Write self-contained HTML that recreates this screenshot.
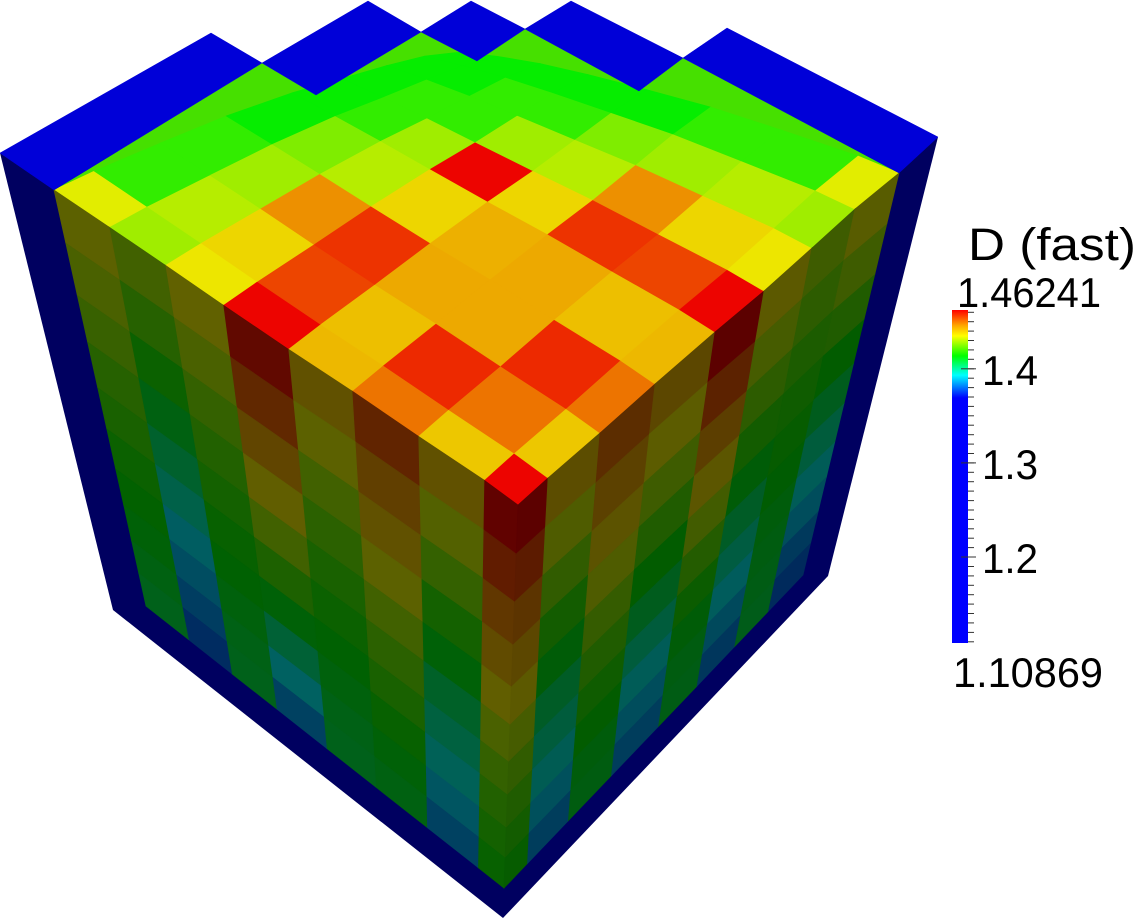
<!DOCTYPE html>
<html>
<head>
<meta charset="utf-8">
<style>
  html,body{margin:0;padding:0;background:#fff;}
  body{width:1138px;height:921px;overflow:hidden;}
  svg{display:block;}
  text{font-family:"Liberation Sans","DejaVu Sans",sans-serif;fill:#000;}
</style>
</head>
<body>
<svg id="chart" width="1138" height="921" viewBox="0 0 1138 921" xmlns="http://www.w3.org/2000/svg">
  <defs>
    <clipPath id="topClip">
      <polygon points="54,190 87,170 262,63 316,95 421,32 477,61 525,29 639,91 683,58 899,173 518,505"/>
    </clipPath>
    <linearGradient id="cbGrad" x1="0" y1="0" x2="0" y2="1">
      <stop offset="0" stop-color="#ff0000"/>
      <stop offset="0.046" stop-color="#ffa500"/>
      <stop offset="0.078" stop-color="#ffff00"/>
      <stop offset="0.138" stop-color="#00ff00"/>
      <stop offset="0.196" stop-color="#00ffff"/>
      <stop offset="0.264" stop-color="#0000ff"/>
      <stop offset="1" stop-color="#0000ff"/>
    </linearGradient>
  </defs>
  <polygon points="0,153 938,137 828,576 503,918 113,610" fill="#000060"/>
  <polygon fill="#46e000" points="54,190 87,170 262,63 316,95 421,32 477,61 525,29 639,91 683,58 899,173 518,505"/>
  <g id="topFace" clip-path="url(#topClip)"></g>
  <g id="leftFace"></g>
  <g id="rightFace"></g>
  <polygon fill="#0000d8" stroke="#0000d8" stroke-width="0.5"
    points="0,153 211,33 262,63 368,1 421,32 471,1 525,29 571,1 683,58 727,28 938,137 899,173 683,58 639,91 525,29 477,61 421,32 316,95 262,63 87,170 54,190"/>
  <g id="legend">
    <text x="968" y="260" font-size="45" textLength="168" lengthAdjust="spacingAndGlyphs">D (fast)</text>
    <text x="957" y="307" font-size="42" textLength="144" lengthAdjust="spacingAndGlyphs">1.46241</text>
    <rect x="952" y="310" width="16" height="333" fill="url(#cbGrad)"/>
    <g id="ticks"></g>
    <text x="953" y="687" font-size="42" textLength="150" lengthAdjust="spacingAndGlyphs">1.10869</text>
  </g>
</svg>
<script>
// ---- data ----
const valueMin = 1.10869;
const valueMax = 1.46241;
const majorTicks = [1.2, 1.3, 1.4];
const majorTickLabels = ["1.2", "1.3", "1.4"];
const colormapValues = [1.369, 1.393, 1.4135, 1.435, 1.446, 1.4624];
const colormapColors = [[0,0,255],[0,255,255],[0,255,0],[255,255,0],[255,165,0],[255,0,0]];
const topValues = [
  [1.462,1.440,1.450,1.442,1.462,1.436,1.428,1.434],
  [1.440,1.450,1.458,1.441,1.455,1.438,1.430,1.418],
  [1.450,1.458,1.444,1.444,1.457,1.447,1.428,1.418],
  [1.442,1.441,1.444,1.443,1.438,1.430,1.425,1.414],
  [1.462,1.455,1.457,1.438,1.462,1.428,1.418,1.414],
  [1.436,1.438,1.447,1.430,1.428,1.418,1.418,1.414],
  [1.428,1.430,1.428,1.425,1.418,1.418,1.414,1.414],
  [1.434,1.418,1.418,1.414,1.414,1.414,1.414,1.414]
];
const leftValues = [
  [1.462,1.455,1.448,1.442,1.436,1.430,1.425,1.421,1.418,1.415],
  [1.440,1.432,1.425,1.418,1.412,1.405,1.400,1.395,1.390,1.385],
  [1.453,1.446,1.440,1.434,1.428,1.423,1.419,1.415,1.412,1.410],
  [1.440,1.434,1.428,1.423,1.419,1.416,1.413,1.411,1.409,1.408],
  [1.460,1.452,1.444,1.436,1.428,1.420,1.412,1.402,1.393,1.385],
  [1.435,1.430,1.425,1.421,1.418,1.415,1.413,1.411,1.409,1.408],
  [1.428,1.422,1.416,1.410,1.404,1.398,1.392,1.388,1.384,1.380],
  [1.434,1.430,1.426,1.422,1.419,1.416,1.414,1.412,1.410,1.408]
];
const rightValues = [
  [1.462,1.455,1.448,1.442,1.436,1.430,1.425,1.421,1.418,1.415],
  [1.440,1.432,1.425,1.418,1.412,1.405,1.400,1.395,1.390,1.385],
  [1.450,1.444,1.438,1.432,1.426,1.421,1.417,1.414,1.411,1.410],
  [1.442,1.435,1.428,1.421,1.414,1.407,1.400,1.394,1.389,1.385],
  [1.462,1.453,1.445,1.437,1.429,1.422,1.416,1.412,1.410,1.409],
  [1.436,1.430,1.424,1.418,1.412,1.405,1.399,1.393,1.388,1.383],
  [1.428,1.424,1.420,1.417,1.415,1.413,1.411,1.410,1.409,1.408],
  [1.434,1.428,1.421,1.414,1.407,1.400,1.394,1.389,1.384,1.380]
];

// ---- geometry (screen layout) ----
const F = [518,505];
const leftTop = [[518,505],[484,480],[418,436],[352,391],[288,349],[223,305],[165,265],[109,227],[54,190]];
const rightTop = [[518,505],[548,478],[600,433],[655,384],[715,332],[764,291],[812,248],[855,209],[899,173]];
const rowFrac = [0,49,97,140,182,220,257,290,323,353,383].map(v=>v/383);
function leftBottom(p){const f=(518-p[0])/(518-54);return [504-f*358,888-f*282];}
function rightBottom(p){const f=(p[0]-518)/(899-518);return [504+f*299,888-f*313];}

function cmap(v,f){
  const s=colormapValues;
  let c;
  if(v<=s[0]) c=colormapColors[0];
  else if(v>=s[s.length-1]) c=colormapColors[s.length-1];
  else{
    for(let k=0;k<s.length-1;k++){
      if(v>=s[k]&&v<=s[k+1]){
        const t=(v-s[k])/(s[k+1]-s[k]);
        const a=colormapColors[k],b=colormapColors[k+1];
        c=[a[0]+(b[0]-a[0])*t,a[1]+(b[1]-a[1])*t,a[2]+(b[2]-a[2])*t];
        break;
      }
    }
  }
  return 'rgb('+Math.round(c[0]*f)+','+Math.round(c[1]*f)+','+Math.round(c[2]*f)+')';
}
const NS='http://www.w3.org/2000/svg';
function poly(g,pts,col){
  const p=document.createElementNS(NS,'polygon');
  p.setAttribute('points',pts.map(q=>q[0].toFixed(1)+','+q[1].toFixed(1)).join(' '));
  p.setAttribute('fill',col);
  p.setAttribute('stroke',col);
  p.setAttribute('stroke-width','0.7');
  g.appendChild(p);
  return p;
}
function lerp(a,b,t){return [a[0]+(b[0]-a[0])*t,a[1]+(b[1]-a[1])*t];}
function topPt(i,j){
  const li=[leftTop[i][0]-F[0],leftTop[i][1]-F[1]];
  const rj=[rightTop[j][0]-F[0],rightTop[j][1]-F[1]];
  const a=Math.abs(li[0])/464, b=Math.abs(rj[0])/381;
  const s=1-0.3*a*b;
  return [F[0]+(li[0]+rj[0])*s, F[1]+(li[1]+rj[1])*s];
}

const gTop=document.getElementById('topFace');
for(let i=0;i<topValues.length;i++){
  for(let j=0;j<topValues[i].length;j++){
    const el=poly(gTop,[topPt(i,j),topPt(i+1,j),topPt(i+1,j+1),topPt(i,j+1)],cmap(topValues[i][j],0.93));
    
    
  }
}
const gLeft=document.getElementById('leftFace');
for(let c=0;c<leftValues.length;c++){
  const t0=leftTop[c],t1=leftTop[c+1],b0=leftBottom(t0),b1=leftBottom(t1);
  for(let r=0;r<leftValues[c].length;r++){
    const el=poly(gLeft,[lerp(t0,b0,rowFrac[r]),lerp(t1,b1,rowFrac[r]),lerp(t1,b1,rowFrac[r+1]),lerp(t0,b0,rowFrac[r+1])],cmap(leftValues[c][r],0.38));
    
    
  }
}
const gRight=document.getElementById('rightFace');
for(let c=0;c<rightValues.length;c++){
  const t0=rightTop[c],t1=rightTop[c+1],b0=rightBottom(t0),b1=rightBottom(t1);
  for(let r=0;r<rightValues[c].length;r++){
    const el=poly(gRight,[lerp(t0,b0,rowFrac[r]),lerp(t1,b1,rowFrac[r]),lerp(t1,b1,rowFrac[r+1]),lerp(t0,b0,rowFrac[r+1])],cmap(rightValues[c][r],0.36));
    
    
  }
}
function yScale(v){return 310+(valueMax-v)/(valueMax-valueMin)*333;}
const gT=document.getElementById('ticks');
for(let v=1.11;v<=1.4601;v+=0.01){
  const y=yScale(v);
  const l=document.createElementNS(NS,'line');
  l.setAttribute('x1','968');l.setAttribute('x2','974');
  l.setAttribute('y1',y.toFixed(1));l.setAttribute('y2',y.toFixed(1));
  l.setAttribute('stroke','#333');l.setAttribute('stroke-width','1');
  
  
  gT.appendChild(l);
}
for(let k=0;k<majorTicks.length;k++){
  const y=yScale(majorTicks[k]);
  const l=document.createElementNS(NS,'line');
  l.setAttribute('x1','961');l.setAttribute('x2','976');
  l.setAttribute('y1',y.toFixed(1));l.setAttribute('y2',y.toFixed(1));
  l.setAttribute('stroke','#333');l.setAttribute('stroke-width','1');
  
  
  gT.appendChild(l);
  const t=document.createElementNS(NS,'text');
  t.setAttribute('x','982');
  t.setAttribute('y',(y+16).toFixed(1));
  t.setAttribute('font-size','42');
  t.setAttribute('textLength','56');
  t.setAttribute('lengthAdjust','spacingAndGlyphs');
  t.textContent=majorTickLabels[k];
  
  
  gT.appendChild(t);
}
</script>
</body>
</html>
